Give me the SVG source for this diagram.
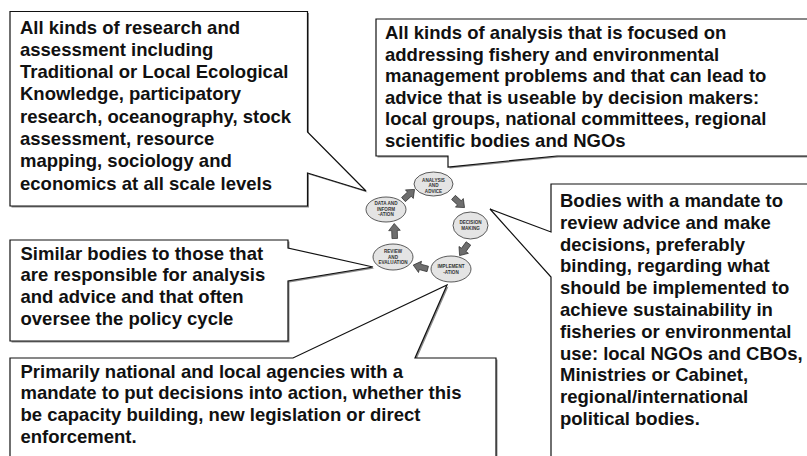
<svg xmlns="http://www.w3.org/2000/svg" xmlns:xlink="http://www.w3.org/1999/xlink" width="807" height="456" viewBox="0 0 807 456">
<style>
.box{fill:#ffffff;stroke:#111111;stroke-width:1.2;stroke-linejoin:miter}
.shadow{fill:#8c8c8c;stroke:none}
.txt{font-family:"Liberation Sans",Arial,sans-serif;font-weight:bold;font-size:18.5px;fill:#111111}
.node{fill:#e4e4e4;stroke:#333333;stroke-width:0.8}
.ntxt{font-family:"Liberation Sans",Arial,sans-serif;font-weight:bold;font-size:4.6px;fill:#333333;text-anchor:middle}
.arr{fill:#6e6e6e;stroke:#2e2e2e;stroke-width:0.7;stroke-linejoin:miter}
</style>
<defs>
<path id="s-tl" d="M10,11.5 H307.5 V132 L366,191 L307.5,173 V206 H10 Z"/>
<path id="s-tr" d="M376,19 H812 V156 H557 L448,167 V156 H376 Z"/>
<path id="s-r" d="M551,184 H812 V462 H551 V277 L490,209 L551,232 Z"/>
<path id="s-sim" d="M10,240 H288 V248 L373,267 L288,281 V341 H10 Z"/>
<path id="s-pri" d="M10,358 H293 L447,285 L415,358 H496 V462 H10 Z"/>
<path id="blk" d="M-7.5,-2.8 L0.5,-2.8 L0.5,-5.8 L7.5,0 L0.5,5.8 L0.5,2.8 L-7.5,2.8 Z"/>
</defs>
<rect width="807" height="456" fill="#ffffff"/>

<g id="callout-data">
<use href="#s-tl" class="shadow" transform="translate(1.5,1.5)"/>
<use href="#s-tl" class="box"/>
<text class="txt">
<tspan x="20" y="33.5">All kinds of research and</tspan>
<tspan x="20" y="55.8">assessment including</tspan>
<tspan x="20" y="78.1">Traditional or Local Ecological</tspan>
<tspan x="20" y="100.4">Knowledge, participatory</tspan>
<tspan x="20" y="122.7">research, oceanography, stock</tspan>
<tspan x="20" y="145">assessment, resource</tspan>
<tspan x="20" y="167.3">mapping, sociology and</tspan>
<tspan x="20" y="189.6">economics at all scale levels</tspan>
</text>
</g>

<g id="callout-analysis">
<use href="#s-tr" class="shadow" transform="translate(1.5,1.5)"/>
<use href="#s-tr" class="box"/>
<text class="txt">
<tspan x="385" y="39">All kinds of analysis that is focused on</tspan>
<tspan x="385" y="60.6">addressing fishery and environmental</tspan>
<tspan x="385" y="82.2">management problems and that can lead to</tspan>
<tspan x="385" y="103.8">advice that is useable by decision makers:</tspan>
<tspan x="385" y="125.4">local groups, national committees, regional</tspan>
<tspan x="385" y="147">scientific bodies and NGOs</tspan>
</text>
</g>

<g id="callout-decision">
<use href="#s-r" class="shadow" transform="translate(1.5,1.5)"/>
<use href="#s-r" class="box"/>
<text class="txt">
<tspan x="560" y="207">Bodies with a mandate to</tspan>
<tspan x="560" y="228.8">review advice and make</tspan>
<tspan x="560" y="250.6">decisions, preferably</tspan>
<tspan x="560" y="272.4">binding, regarding what</tspan>
<tspan x="560" y="294.2">should be implemented to</tspan>
<tspan x="560" y="316">achieve sustainability in</tspan>
<tspan x="560" y="337.8">fisheries or environmental</tspan>
<tspan x="560" y="359.6">use: local NGOs and CBOs,</tspan>
<tspan x="560" y="381.4">Ministries or Cabinet,</tspan>
<tspan x="560" y="403.2">regional/international</tspan>
<tspan x="560" y="425">political bodies.</tspan>
</text>
</g>

<g id="callout-review">
<use href="#s-sim" class="shadow" transform="translate(1.5,1.5)"/>
<use href="#s-sim" class="box"/>
<text class="txt">
<tspan x="20.5" y="259.5">Similar bodies to those that</tspan>
<tspan x="20.5" y="281.2">are responsible for analysis</tspan>
<tspan x="20.5" y="302.9">and advice and that often</tspan>
<tspan x="20.5" y="324.6">oversee the policy cycle</tspan>
</text>
</g>

<g id="callout-implementation">
<use href="#s-pri" class="shadow" transform="translate(1.5,1.5)"/>
<use href="#s-pri" class="box"/>
<text class="txt">
<tspan x="20.5" y="377.5">Primarily national and local agencies with a</tspan>
<tspan x="20.5" y="399.3">mandate to put decisions into action, whether this</tspan>
<tspan x="20.5" y="421.1">be capacity building, new legislation or direct</tspan>
<tspan x="20.5" y="442.9">enforcement.</tspan>
</text>
</g>

<g id="node-analysis">
<ellipse class="node" cx="433.5" cy="184" rx="19.5" ry="12"/>
<text class="ntxt"><tspan x="433.5" y="181.6">ANALYSIS</tspan><tspan x="433.5" y="187">AND</tspan><tspan x="433.5" y="192.5">ADVICE</tspan></text>
</g>
<g id="node-data">
<ellipse class="node" cx="386" cy="209.5" rx="20" ry="12.5"/>
<text class="ntxt"><tspan x="386" y="205">DATA AND</tspan><tspan x="386" y="210.6">INFORM</tspan><tspan x="386" y="216">-ATION</tspan></text>
</g>
<g id="node-decision">
<ellipse class="node" cx="470.5" cy="225.5" rx="17.5" ry="13.5"/>
<text class="ntxt"><tspan x="470.5" y="224.3">DECISION</tspan><tspan x="470.5" y="230">MAKING</tspan></text>
</g>
<g id="node-review">
<ellipse class="node" cx="393" cy="257" rx="20" ry="13"/>
<text class="ntxt"><tspan x="393" y="252.6">REVIEW</tspan><tspan x="393" y="258.8">AND</tspan><tspan x="393" y="264">EVALUATION</tspan></text>
</g>
<g id="node-implementation">
<ellipse class="node" cx="451" cy="269" rx="20" ry="13"/>
<text class="ntxt"><tspan x="451" y="268.3">IMPLEMENT</tspan><tspan x="451" y="273.5">-ATION</tspan></text>
</g>

<g id="connectors">
<use href="#blk" class="arr" transform="translate(409,194.5) rotate(-42.5)"/>
<use href="#blk" class="arr" transform="translate(459,202.5) rotate(42.5)"/>
<use href="#blk" class="arr" transform="translate(464,249.5) rotate(126)"/>
<use href="#blk" class="arr" transform="translate(420.5,267) rotate(195)"/>
<use href="#blk" class="arr" transform="translate(394.5,231) rotate(-92)"/>
</g>
</svg>
